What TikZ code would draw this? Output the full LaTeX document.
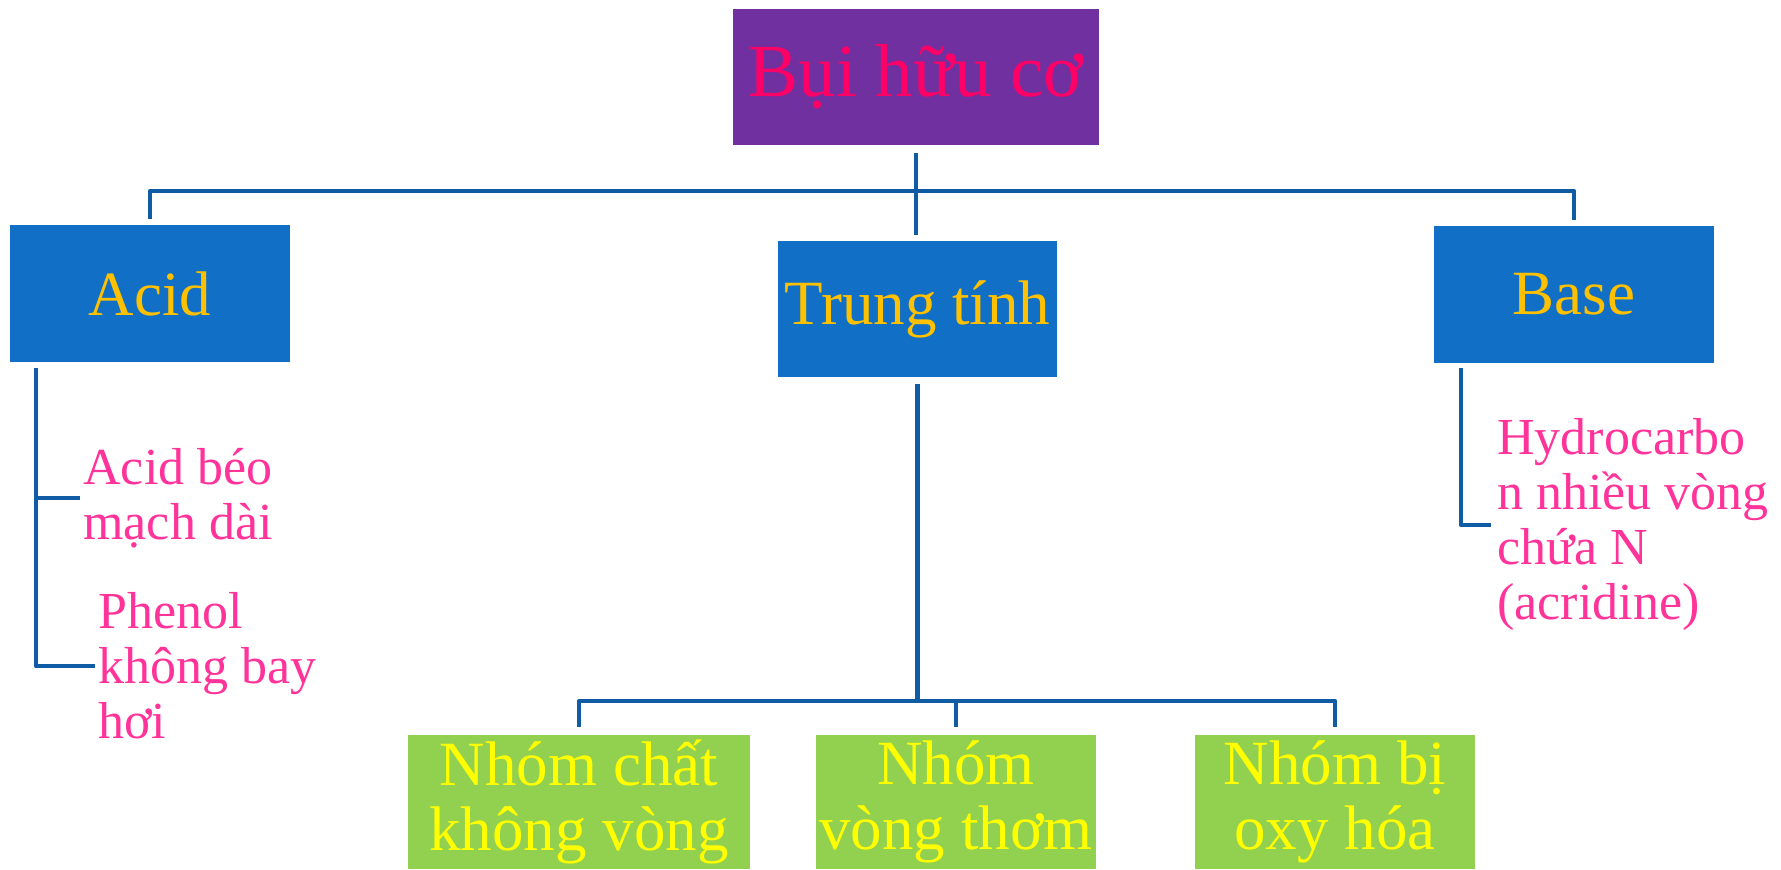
\documentclass[tikz,border=0pt]{standalone}
\usepackage{fontspec}
\setmainfont{Liberation Serif}
\usepackage{tikz}

\definecolor{grape}{HTML}{7030A0}
\definecolor{hotpink}{HTML}{FF0066}
\definecolor{boxblue}{HTML}{1170C5}
\definecolor{gold}{HTML}{FFC000}
\definecolor{leaf}{HTML}{92D050}
\definecolor{lemon}{HTML}{FFFF00}
\definecolor{rosepink}{HTML}{FF3399}
\definecolor{linkblue}{HTML}{105CA4}

\begin{document}
\begin{tikzpicture}[x=0.5pt,y=-0.5pt,
    box/.style={inner sep=0pt,align=center},
    kind/.style={box,fill=boxblue,text=gold,minimum width=140pt,minimum height=68.5pt,
      font=\fontsize{31.5}{33}\selectfont},
    group/.style={box,fill=leaf,text=lemon,minimum width=140pt,minimum height=67pt,
      font=\fontsize{31.5}{32.5}\selectfont},
    lbl/.style={text=rosepink,anchor=north west,inner sep=0pt,align=left,
      font=\fontsize{26}{27.5}\selectfont},
    link/.style={draw=linkblue,line width=2.2pt,line join=round}]

    \useasboundingbox (0,0) rectangle (1781,869);

    % boxes
    \node[box,fill=grape,text=hotpink,minimum width=183pt,minimum height=68pt,
      font=\fontsize{37.5}{40}\selectfont] (dust) at (916,77) {Bụi hữu cơ};
    \node[kind] (acid) at (150,293.5) {Acid};
    \node[kind,minimum width=139.5pt,minimum height=68pt] (neutral) at (917.5,309) {Trung tính};
    \node[kind] (base) at (1574,294.5) {Base};
    \node[group,minimum width=171pt] (acyclic) at (579,802) {Nhóm chất\\không vòng};
    \node[group] (aromatic) at (956,802) {Nhóm\\vòng thơm};
    \node[group] (oxidised) at (1335,802) {Nhóm bị\\oxy hóa};

    % side labels
    \node[lbl] (fatty) at (83,447.5) {Acid béo\\mạch dài};
    \node[lbl] (phenol) at (98,592.5) {Phenol\\không bay\\hơi};
    \node[lbl] (acridine) at (1497,418.5) {Hydrocarbo\\n nhiều vòng\\chứa N\\(acridine)};

    \coordinate (bar) at (916,191);
    \coordinate (sub) at (918,701);
    \coordinate (arail) at (36,368);
    \coordinate (brail) at (1461,368);

    % connectors
    \draw[link,shorten <=4pt,shorten >=3pt] (dust.south) -- (dust.south |- neutral.north);
    \draw[link,shorten <=3pt,shorten >=3pt] (acid.north) -- (acid.north |- bar)
      -- (base.north |- bar) -- (base.north);
    \draw[link,shorten <=3.5pt] (neutral.south) -- (neutral.south |- sub);
    \draw[link,shorten <=4pt,shorten >=4pt] (acyclic.north) -- (acyclic.north |- sub)
      -- (oxidised.north |- sub) -- (oxidised.north);
    \draw[link,shorten >=4pt] (aromatic.north |- sub) -- (aromatic.north);
    \draw[link,shorten >=1.5pt] (arail) |- (fatty.west);
    \draw[link,shorten >=1.5pt] (arail) |- (phenol.west);
    \draw[link,shorten >=3pt] (brail) |- (acridine.west);
\end{tikzpicture}
\end{document}
